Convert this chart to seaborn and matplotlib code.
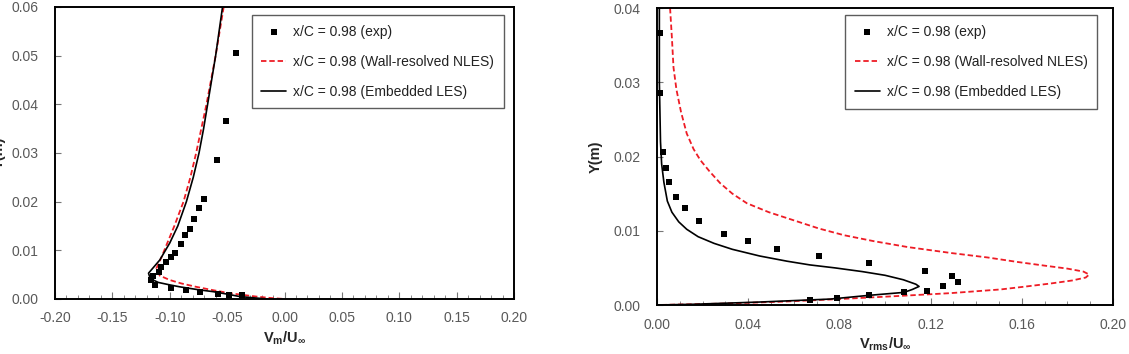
import numpy as np
import matplotlib
matplotlib.use("Agg")
import matplotlib.pyplot as plt
import seaborn as sns
from matplotlib.ticker import MultipleLocator

# ---- left panel: V_m / U_inf ----
vm_exp_x = [-0.042, -0.051, -0.059, -0.0704, -0.0745, -0.0789, -0.082, -0.0863, -0.0904,
            -0.0957, -0.099, -0.103, -0.108, -0.109, -0.115, -0.116, -0.113, -0.0985,
            -0.0855, -0.074, -0.058, -0.048, -0.037]
vm_exp_y = [0.0505, 0.0366, 0.0286, 0.0205, 0.0186, 0.0165, 0.0144, 0.0131, 0.0114,
            0.0095, 0.0087, 0.0077, 0.0065, 0.0055, 0.0048, 0.0039, 0.0029, 0.0023,
            0.0018, 0.0014, 0.0010, 0.0009, 0.0008]

vm_nles_x = [-0.053, -0.0565, -0.060, -0.064, -0.068, -0.0725, -0.077, -0.082, -0.088,
             -0.096, -0.103, -0.107, -0.1116, -0.1087, -0.100, -0.090, -0.077, -0.062,
             -0.048, -0.035, -0.0246, -0.012, 0.0]
vm_nles_y = [0.060, 0.055, 0.050, 0.045, 0.040, 0.035, 0.030, 0.025, 0.020,
             0.015, 0.011, 0.0087, 0.0063, 0.0048, 0.0039, 0.0032, 0.0025, 0.0018,
             0.0012, 0.0008, 0.0005, 0.0002, 0.0]

vm_les_x = [-0.054, -0.057, -0.060, -0.0635, -0.067, -0.0705, -0.0745, -0.0795, -0.0855,
            -0.093, -0.100, -0.1087, -0.1185, -0.117, -0.110, -0.100, -0.0913, -0.075,
            -0.062, -0.050, -0.039, -0.025, -0.015]
vm_les_y = [0.060, 0.055, 0.050, 0.045, 0.040, 0.035, 0.030, 0.025, 0.020,
            0.015, 0.0115, 0.008, 0.0053, 0.0042, 0.0034, 0.0029, 0.0025, 0.0019,
            0.0015, 0.0010, 0.0005, 0.0002, 0.0]

# ---- right panel: V_rms / U_inf ----
vr_exp_x = [0.0013, 0.0013, 0.0028, 0.004, 0.0053, 0.0084, 0.0122, 0.0186, 0.0295,
            0.0397, 0.0527, 0.0708, 0.0929, 0.1174, 0.1293, 0.1322, 0.1254, 0.1182,
            0.1083, 0.0929, 0.079, 0.0672]
vr_exp_y = [0.0366, 0.0286, 0.0206, 0.0185, 0.0166, 0.0146, 0.0131, 0.0113, 0.0096,
            0.0086, 0.0076, 0.0066, 0.0056, 0.0046, 0.0039, 0.0031, 0.0025, 0.0019,
            0.0017, 0.0013, 0.0009, 0.0007]

vr_nles_x = [0.0057, 0.0065, 0.0072, 0.0085, 0.0105, 0.013, 0.016, 0.019, 0.023, 0.0277,
             0.033, 0.0394, 0.049, 0.060, 0.071, 0.082, 0.095, 0.110, 0.129, 0.145,
             0.158, 0.170, 0.180, 0.187, 0.1895, 0.188, 0.182, 0.1727, 0.162, 0.1508,
             0.1288, 0.105, 0.080, 0.055, 0.030, 0.0]
vr_nles_y = [0.040, 0.036, 0.032, 0.029, 0.026, 0.0231, 0.021, 0.0195, 0.018, 0.0164,
             0.015, 0.0137, 0.0125, 0.0114, 0.0103, 0.0094, 0.0086, 0.0078, 0.0070, 0.0064,
             0.0058, 0.0053, 0.0049, 0.0045, 0.0041, 0.0037, 0.0033, 0.0029, 0.0025, 0.0021,
             0.0016, 0.0012, 0.0008, 0.00045, 0.0002, 0.0]

vr_les_x = [0.001, 0.001, 0.0015, 0.002, 0.003, 0.0045, 0.0065, 0.0095, 0.013, 0.018,
            0.025, 0.033, 0.045, 0.057, 0.067, 0.078, 0.090, 0.100, 0.108, 0.1135,
            0.1149, 0.112, 0.1083, 0.0929, 0.076, 0.045, 0.016, 0.0]
vr_les_y = [0.040, 0.030, 0.022, 0.019, 0.0165, 0.014, 0.0125, 0.0112, 0.0102, 0.0092,
            0.0083, 0.0075, 0.0066, 0.0059, 0.0054, 0.0050, 0.0045, 0.0040, 0.0034, 0.0028,
            0.0025, 0.0021, 0.0017, 0.0013, 0.0008, 0.0004, 0.0001, 0.0]

labels = ["x/C = 0.98 (exp)", "x/C = 0.98 (Wall-resolved NLES)", "x/C = 0.98 (Embedded LES)"]

sns.set_style("ticks")
plt.rcParams['font.family'] = ['Liberation Sans', 'DejaVu Sans']
plt.rcParams['mathtext.fontset'] = 'custom'
plt.rcParams['mathtext.bf'] = 'Liberation Sans:bold'
plt.rcParams['mathtext.rm'] = 'Liberation Sans'

fig = plt.figure(figsize=(11.29, 3.54), dpi=100)
ax1 = fig.add_axes([0.0487, 0.1554, 0.4066, 0.8249])
ax2 = fig.add_axes([0.582, 0.1384, 0.4039, 0.839])

tick_color = '#595959'


def draw(ax, ex, ey, nx, ny, lx, ly):
    sns.scatterplot(x=ex, y=ey, ax=ax, marker='s', color='black', s=24, linewidth=0,
                    label=labels[0], zorder=3)
    sns.lineplot(x=nx, y=ny, ax=ax, sort=False, estimator=None, color='#ee1c25',
                 linestyle=(0, (3, 1.6)), linewidth=1.3, label=labels[1])
    sns.lineplot(x=lx, y=ly, ax=ax, sort=False, estimator=None, color='black',
                 linewidth=1.2, label=labels[2])
    for s in ax.spines.values():
        s.set_linewidth(1.4)
        s.set_color('black')
    ax.tick_params(axis='both', which='both', direction='in', labelsize=10,
                   labelcolor=tick_color, color='#777777')
    ax.tick_params(axis='x', which='major', length=5, pad=9, top=False)
    ax.tick_params(axis='x', which='minor', length=3, top=False)
    ax.tick_params(axis='y', which='major', length=4, pad=12, right=False)


draw(ax1, vm_exp_x, vm_exp_y, vm_nles_x, vm_nles_y, vm_les_x, vm_les_y)
ax1.set_xlim(-0.2, 0.2)
ax1.set_ylim(0, 0.06)
ax1.xaxis.set_major_locator(MultipleLocator(0.05))
ax1.xaxis.set_minor_locator(MultipleLocator(0.01))
ax1.yaxis.set_major_locator(MultipleLocator(0.01))
ax1.set_xticklabels([f"{v:.2f}" for v in ax1.get_xticks()])
ax1.set_yticklabels([f"{v:.2f}" for v in ax1.get_yticks()])
ax1.set_xlabel(r'$\mathbf{V_{m}/U_{\infty}}$', fontsize=10.5, labelpad=3)
ax1.set_ylabel('Y(m)', fontsize=10.5, fontweight='bold')
ax1.yaxis.set_label_coords(-0.108, 0.5)

draw(ax2, vr_exp_x, vr_exp_y, vr_nles_x, vr_nles_y, vr_les_x, vr_les_y)
ax2.set_xlim(0, 0.2)
ax2.set_ylim(0, 0.04)
ax2.xaxis.set_major_locator(MultipleLocator(0.04))
ax2.xaxis.set_minor_locator(MultipleLocator(0.01))
ax2.yaxis.set_major_locator(MultipleLocator(0.01))
ax2.set_xticklabels([f"{v:.2f}" for v in ax2.get_xticks()])
ax2.set_yticklabels([f"{v:.2f}" for v in ax2.get_yticks()])
ax2.set_xlabel(r'$\mathbf{V_{rms}/U_{\infty}}$', fontsize=10.5, labelpad=3)
ax2.set_ylabel('Y(m)', fontsize=10.5, fontweight='bold')
ax2.yaxis.set_label_coords(-0.12, 0.5)

for ax, anchor in [(ax1, (0.978, 0.973)), (ax2, (0.965, 0.976))]:
    h, l = ax.get_legend_handles_labels()
    leg = ax.legend(h, l, loc='upper right', bbox_to_anchor=anchor, fontsize=10,
                    frameon=True, fancybox=False, edgecolor='#333333',
                    handlelength=1.8, labelspacing=1.15, borderpad=0.7,
                    handletextpad=0.5, borderaxespad=0)
    leg.get_frame().set_linewidth(1.0)
    for t in leg.get_texts():
        t.set_color('#222222')

fig.savefig('out.png', dpi=100)
